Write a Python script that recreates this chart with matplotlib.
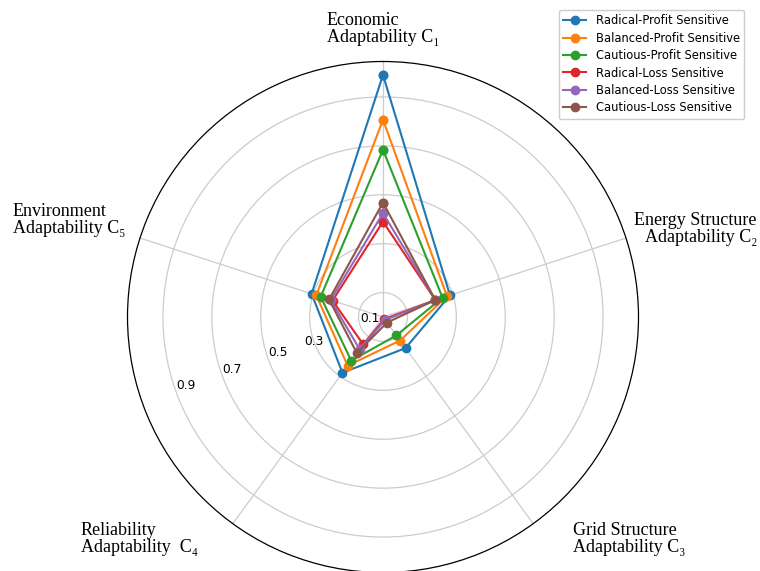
import numpy as np
import matplotlib
matplotlib.use("Agg")
import matplotlib.pyplot as plt
from matplotlib.transforms import ScaledTranslation

# Criteria shown on the radar axes (clockwise from the top)
criteria = ["C1", "C2", "C3", "C4", "C5"]

# Scores of each investor type on the five criteria
radical_profit = [0.99, 0.288, 0.157, 0.282, 0.307]
balanced_profit = [0.807, 0.275, 0.119, 0.246, 0.287]
cautious_profit = [0.684, 0.256, 0.093, 0.221, 0.268]
radical_loss = [0.39, 0.225, 0.01, 0.138, 0.217]
balanced_loss = [0.425, 0.225, 0.015, 0.163, 0.225]
cautious_loss = [0.468, 0.225, 0.028, 0.182, 0.232]

series_names = ["Radical-Profit Sensitive", "Balanced-Profit Sensitive",
                "Cautious-Profit Sensitive", "Radical-Loss Sensitive",
                "Balanced-Loss Sensitive", "Cautious-Loss Sensitive"]
series_values = [radical_profit, balanced_profit, cautious_profit,
                 radical_loss, balanced_loss, cautious_loss]
colors = ["#1f77b4", "#ff7f0e", "#2ca02c", "#e0262b", "#9467bd", "#8c564b"]

radial_ticks = [0.1, 0.3, 0.5, 0.7, 0.9]

W, H = 760, 571
fig = plt.figure(figsize=(W / 100, H / 100), dpi=100)
cx, cy, R = 383, 317, 255.5
ax = fig.add_axes([(cx - R) / W, (H - cy - R) / H, 2 * R / W, 2 * R / H],
                  projection="polar")
ax.set_theta_offset(np.pi / 2)
ax.set_theta_direction(-1)

angles = np.linspace(0, 2 * np.pi, len(criteria), endpoint=False)
for name, vals, col in zip(series_names, series_values, colors):
    th = np.concatenate([angles, angles[:1]])
    rv = np.concatenate([vals, vals[:1]])
    ax.plot(th, rv, "-o", color=col, lw=1.5, ms=6, label=name)

ax.set_ylim(0, 1.045)
ax.set_yticks(radial_ticks)
ax.set_yticklabels([str(t) for t in radial_ticks], fontsize=8.8)
ax.set_rlabel_position(250)
ax.set_xticks(angles)
ax.set_xticklabels([])
ax.grid(color="#cccccc", lw=0.9)
ax.spines["polar"].set_color("black")
ax.spines["polar"].set_linewidth(0.9)

# nudge the 0.3 label a little outward so it clears the data lines
lbl = ax.get_yticklabels()[1]
lbl.set_transform(lbl.get_transform() +
                  ScaledTranslation(-0.1, -0.06, fig.dpi_scale_trans))

serif = ["Liberation Serif", "DejaVu Serif"]
fs = 13
ls = 1.05


def px(x, y):
    return x / W, 1 - y / H


fig.text(*px(383, 29), "Economic\nAdaptability C\u2081", ha="center", va="center",
         multialignment="left", family=serif, fontsize=fs, linespacing=ls)
fig.text(*px(757, 229), "Energy Structure\nAdaptability C\u2082", ha="right",
         va="center", multialignment="right", family=serif, fontsize=fs,
         linespacing=ls)
fig.text(*px(573, 539), "Grid Structure\nAdaptability C\u2083", ha="left",
         va="center", multialignment="left", family=serif, fontsize=fs,
         linespacing=ls)
fig.text(*px(81, 539), "Reliability\nAdaptability  C\u2084", ha="left",
         va="center", multialignment="left", family=serif, fontsize=fs,
         linespacing=ls)
fig.text(*px(13, 220), "Environment\nAdaptability C\u2085", ha="left",
         va="center", multialignment="left", family=serif, fontsize=fs,
         linespacing=ls)

fig.legend(loc="upper right", bbox_to_anchor=px(750, 4), fontsize=8.3,
           labelspacing=0.38, framealpha=1, edgecolor="#cccccc")

fig.savefig("out.png", dpi=100)
